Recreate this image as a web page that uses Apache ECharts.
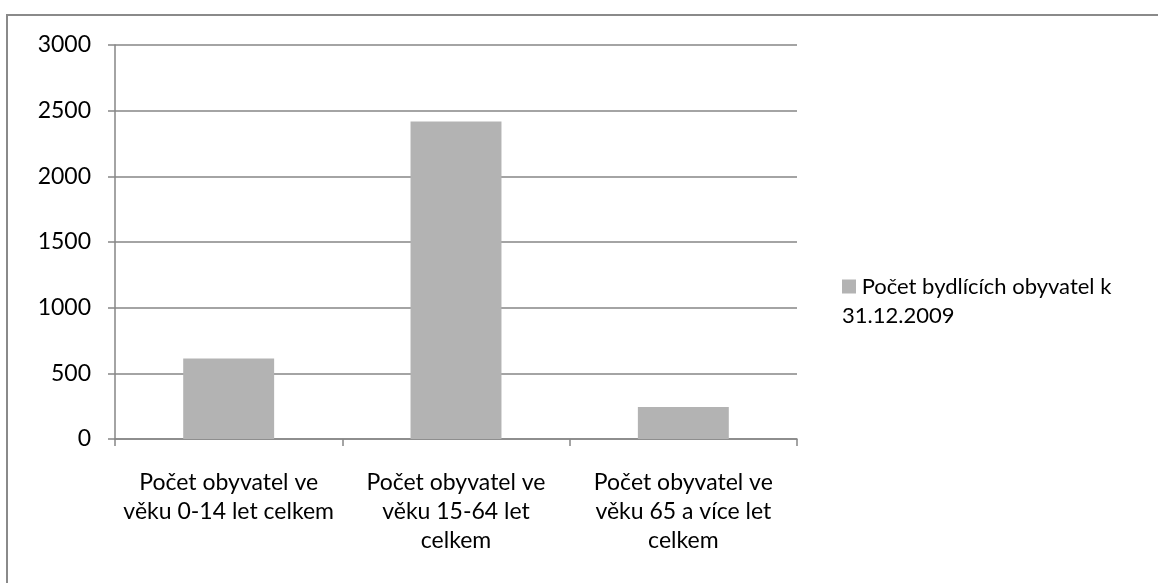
<!DOCTYPE html>
<html><head><meta charset="utf-8">
<script src="https://cdn.jsdelivr.net/npm/echarts@6/dist/echarts.min.js"></script>
<style>html,body{margin:0;padding:0;background:#fff}#c{width:1158px;height:583px}</style>
</head><body><div id="c"></div>
<script>
const categories = [
  'Počet obyvatel ve\nvěku 0-14 let celkem',
  'Počet obyvatel ve\nvěku 15-64 let\ncelkem',
  'Počet obyvatel ve\nvěku 65 a více let\ncelkem'
];
const seriesName = 'Počet bydlících obyvatel k 31.12.2009';
const values = [612, 2418, 243];
const yTicks = [0, 500, 1000, 1500, 2000, 2500, 3000];

const FONT = 'Lato';
const FS = 22;
const chart = echarts.init(document.getElementById('c'), null, {renderer: 'canvas'});
chart.setOption({
  animation: false,
  textStyle: {fontFamily: FONT},
  grid: {left: 115, right: 361, top: 45, bottom: 144, containLabel: false},
  graphic: [{
    type: 'rect', shape: {x: 7, y: 15, width: 1300, height: 700},
    style: {fill: 'none', stroke: '#8a8a8a', lineWidth: 2}, silent: true
  }],
  legend: {
    show: true, left: 832, top: 267, orient: 'vertical',
    itemWidth: 0, itemHeight: 0, icon: 'rect',
    data: [seriesName],
    formatter: function (name) {
      const i = name.lastIndexOf(' k ');
      return '{box|}{t| ' + name.slice(0, i + 2) + '}\n{t|' + name.slice(i + 3) + '}';
    },
    textStyle: {
      fontFamily: FONT, fontSize: FS, color: '#000', lineHeight: 29,
      rich: {
        box: {width: 14, height: 14, backgroundColor: '#b3b3b3'},
        t: {fontFamily: FONT, fontSize: FS, color: '#000', lineHeight: 29}
      }
    }
  },
  xAxis: {
    type: 'category', data: categories,
    axisLine: {show: true, lineStyle: {color: '#868686', width: 1.5}},
    axisTick: {show: true, length: 7, alignWithLabel: false, lineStyle: {color: '#868686', width: 1.5}},
    axisLabel: {interval: 0, margin: 29, fontSize: 23, lineHeight: 29, color: '#000', fontFamily: FONT, align: 'center'}
  },
  yAxis: {
    type: 'value', min: yTicks[0], max: yTicks[yTicks.length - 1], interval: 500,
    axisLine: {show: true, lineStyle: {color: '#868686', width: 1.5}},
    axisTick: {show: true, length: 7, lineStyle: {color: '#868686', width: 1.5}},
    axisLabel: {margin: 24, fontSize: 23, color: '#000', fontFamily: FONT, formatter: function (v) { return String(v); }},
    splitLine: {show: true, lineStyle: {color: '#868686', width: 1.5}}
  },
  series: [{
    name: seriesName, type: 'bar', data: values, barWidth: '40%',
    itemStyle: {color: '#b3b3b3'}
  }]
});
</script></body></html>
